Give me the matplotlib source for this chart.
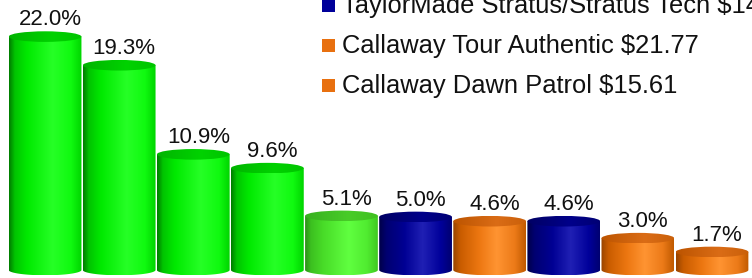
import numpy as np
import matplotlib
matplotlib.use('Agg')
import matplotlib.pyplot as plt
from matplotlib.patches import Ellipse, Rectangle, PathPatch
from matplotlib.path import Path
from matplotlib.colors import to_rgb

# ---- data ----
values = [22.0, 19.3, 10.9, 9.6, 5.1, 5.0, 4.6, 4.6, 3.0, 1.7]
value_labels = ["22.0%", "19.3%", "10.9%", "9.6%", "5.1%", "5.0%", "4.6%", "4.6%", "3.0%", "1.7%"]
bar_groups = ["green", "green", "green", "green", "lightgreen", "blue", "orange", "blue", "orange", "orange"]
legend_labels = ["TaylorMade Stratus/Stratus Tech $14",
                 "Callaway Tour Authentic $21.77",
                 "Callaway Dawn Patrol $15.61"]
legend_colors = ["#00009a", "#e8700f", "#e8700f"]

# ---- styles ----
body_stops = {
    "green": [(0, "#007c00"), (0.08, "#00c400"), (0.25, "#00ea00"), (0.6, "#26ff26"), (0.85, "#10fa10"), (1, "#00d400")],
    "lightgreen": [(0, "#2c9018"), (0.08, "#3cc020"), (0.25, "#48dc28"), (0.6, "#60ff40"), (0.85, "#50ec30"), (1, "#40c820")],
    "blue": [(0, "#000048"), (0.1, "#000070"), (0.35, "#000094"), (0.6, "#2020b4"), (0.85, "#00009a"), (1, "#000070")],
    "orange": [(0, "#984400"), (0.1, "#c85c00"), (0.35, "#ec7610"), (0.6, "#ff9432"), (0.85, "#ec7a18"), (1, "#c05a00")],
}
top_stops = {
    "green": [(0, "#00b400"), (0.6, "#00d200"), (1, "#00c400")],
    "lightgreen": [(0, "#38b020"), (0.6, "#48cc28"), (1, "#40c020")],
    "blue": [(0, "#000064"), (0.6, "#00008a"), (1, "#000074")],
    "orange": [(0, "#bc5400"), (0.6, "#da6c16"), (1, "#ca600a")],
}


def gradient(stops, n=256):
    ts = np.array([s[0] for s in stops])
    cols = np.array([to_rgb(s[1]) for s in stops])
    t = np.linspace(0, 1, n)
    row = np.stack([np.interp(t, ts, cols[:, k]) for k in range(3)], axis=1)
    return np.stack([row, row], axis=0)


plt.rcParams['font.family'] = ['Liberation Sans', 'DejaVu Sans']
fig = plt.figure(figsize=(7.52, 2.78), dpi=100)
ax = fig.add_axes([0, 0, 1, 1])
ax.axis('off')

XLIM = (-0.608, 9.54)
YLIM = (-0.754, 25.45)
ax.set_xlim(*XLIM)
ax.set_ylim(*YLIM)

e = 0.5  # half-height of the cylinder ellipses (data units)
x = np.arange(len(values))
bars = ax.bar(x, values, width=0.982, color='none', edgecolor='none')

for rect, grp, lab in zip(bars, bar_groups, value_labels):
    x0 = rect.get_x()
    w = rect.get_width()
    h = rect.get_height()
    xc = x0 + w / 2
    th = np.linspace(np.pi, 2 * np.pi, 60)
    verts = [(x0, h), (x0, 0)] + [(xc + w / 2 * np.cos(t), e * np.sin(t)) for t in th] + [(x0 + w, h), (x0, h)]
    codes = [Path.MOVETO] + [Path.LINETO] * (len(verts) - 2) + [Path.CLOSEPOLY]
    body = PathPatch(Path(verts, codes), facecolor='none', edgecolor='none', transform=ax.transData)
    ax.add_patch(body)
    im = ax.imshow(gradient(body_stops[grp]), extent=[x0, x0 + w, -e, h], aspect='auto',
                   interpolation='bilinear', zorder=2)
    im.set_clip_path(body)

    top = Ellipse((xc, h), w, 2 * e, facecolor='none', edgecolor='none', transform=ax.transData)
    ax.add_patch(top)
    im2 = ax.imshow(gradient(top_stops[grp]), extent=[x0, x0 + w, h - e, h + e], aspect='auto',
                    interpolation='bilinear', zorder=3)
    im2.set_clip_path(top)

    ax.annotate(lab, (xc, h + e), xytext=(5, 6), textcoords='offset pixels',
                ha='center', va='baseline', fontsize=16, color='#111111', zorder=5)

ax.set_xlim(*XLIM)
ax.set_ylim(*YLIM)

# ---- legend (partly cropped at the top) ----
W, H = 752.0, 278.0
for i, (lab, col) in enumerate(zip(legend_labels, legend_colors)):
    base = 13 + 40 * i
    fig.patches.append(Rectangle((322 / W, 1 - (base - 1) / H), 13 / W, 13 / H,
                                 transform=fig.transFigure, facecolor=col, edgecolor='none'))
    fig.text(342 / W, 1 - base / H, lab, fontsize=18.4, color='#111111', va='baseline', ha='left')

fig.savefig('out.png', dpi=100)
